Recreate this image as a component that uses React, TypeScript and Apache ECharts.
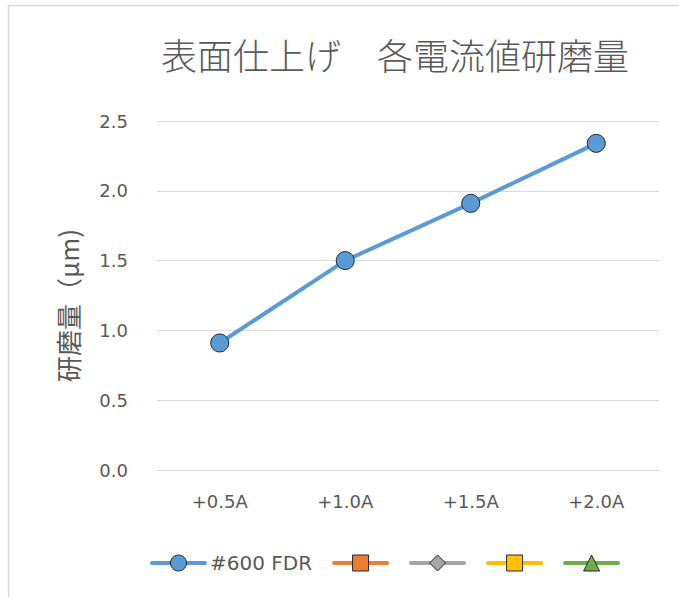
import React, { useEffect, useRef } from "react";
import * as echarts from "echarts";

// Categories (current offset) and measured removal amount
const categories = ["+0.5A", "+1.0A", "+1.5A", "+2.0A"];
const fdr600 = [0.91, 1.5, 1.91, 2.34];

const seriesNames = ["#600 FDR", "系列2", "系列3", "系列4", "系列5"];
const seriesColors = ["#5B9BD5", "#ED7D31", "#A5A5A5", "#FFC000", "#70AD47"];
const seriesSymbols = ["circle", "rect", "diamond", "rect", "triangle"];
const seriesData: (number | null)[][] = [fdr600, [], [], [], []];

const yTicks = { min: 0, max: 2.5, interval: 0.5 };

const titleText = "表面仕上げ　各電流値研磨量";
const yName = "研磨量（μm)";

const TEXT = "#595959";
const GRID = "#D9D9D9";
const LATIN = "DejaVu Sans";
const CJK = "'Noto Sans CJK JP', 'DejaVu Sans'";

export default function App() {
  const ref = useRef<HTMLDivElement>(null);

  useEffect(() => {
    if (!ref.current) return;
    const chart = echarts.init(ref.current, undefined, { renderer: "svg" });

    const series = seriesNames.map((name, i) => ({
      name,
      type: "line" as const,
      data: seriesData[i],
      color: seriesColors[i],
      symbol: seriesSymbols[i],
      symbolSize: 18,
      showAllSymbol: true,
      lineStyle: { width: 4, color: seriesColors[i], cap: "round" as const },
      itemStyle: {
        color: seriesColors[i],
        borderColor: "#262626",
        borderWidth: 1,
      },
      emphasis: { disabled: true },
    }));

    chart.setOption({
      animation: false,
      backgroundColor: "#ffffff",
      title: {
        text: titleText,
        left: 390,
        top: 31,
        textAlign: "center",
        textStyle: {
          fontFamily: CJK,
          fontSize: 36,
          fontWeight: 300,
          color: TEXT,
        },
      },
      graphic: [
        {
          type: "rect",
          shape: { x: 8.5, y: 5.5, width: 720, height: 640 },
          style: { fill: "none", stroke: GRID, lineWidth: 1.5 },
          silent: true,
          z: -1,
        },
      ],
      grid: { left: 157, right: 20, top: 121, bottom: 127 },
      legend: {
        data: seriesNames,
        left: 150,
        top: 553,
        padding: 0,
        itemWidth: 53,
        itemHeight: 20,
        itemGap: 20,
        formatter: (name: string) => (name === seriesNames[0] ? name : ""),
        textStyle: { fontFamily: LATIN, fontSize: 20, color: TEXT },
        lineStyle: { width: 4 },
        itemStyle: { borderColor: "#262626", borderWidth: 1 },
        selectedMode: false,
      },
      xAxis: {
        type: "category",
        data: categories,
        boundaryGap: true,
        axisLine: { show: true, lineStyle: { color: GRID, width: 1 } },
        axisTick: { show: false },
        axisLabel: {
          margin: 22,
          fontFamily: LATIN,
          fontSize: 18,
          color: TEXT,
        },
      },
      yAxis: {
        type: "value",
        min: yTicks.min,
        max: yTicks.max,
        interval: yTicks.interval,
        name: yName,
        nameLocation: "middle",
        nameRotate: 90,
        nameGap: 77,
        nameTextStyle: {
          fontFamily: CJK,
          fontSize: 26,
          color: TEXT,
          padding: [0, 20, 0, 0],
        },
        axisLine: { show: false },
        axisTick: { show: false },
        splitLine: { lineStyle: { color: GRID, width: 1 } },
        axisLabel: {
          margin: 29,
          fontFamily: LATIN,
          fontSize: 18,
          color: TEXT,
          formatter: (v: number) => v.toFixed(1),
        },
      },
      series,
    });

    return () => chart.dispose();
  }, []);

  return (
    <div
      ref={ref}
      style={{ position: "fixed", left: 0, top: 0, width: 679, height: 597 }}
    />
  );
}
